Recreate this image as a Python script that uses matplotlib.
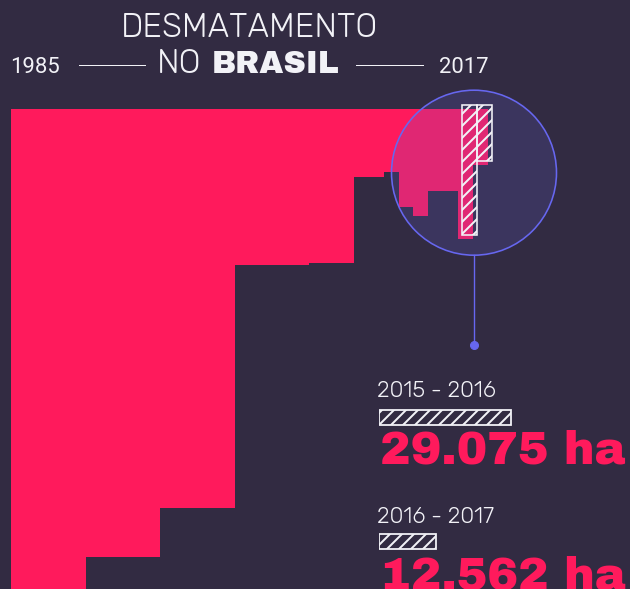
import matplotlib
matplotlib.use("Agg")
import matplotlib.pyplot as plt
from matplotlib.patches import Circle
from matplotlib.transforms import Affine2D, ScaledTranslation

# ---------------- data ----------------
period_start = [1985, 1990, 1995, 2000, 2005, 2008, 2010, 2011, 2012, 2013, 2014, 2015, 2016]
period_end   = [1990, 1995, 2000, 2005, 2008, 2010, 2011, 2012, 2013, 2014, 2015, 2016, 2017]
deforested_ha = [536480, 500317, 445952, 174828, 102938, 30366, 14090, 21977, 23948, 18267, 18433, 29075, 12562]
highlight_labels = ["2015 - 2016", "2016 - 2017"]
highlight_values = [29075, 12562]
highlight_texts = ["29.075 ha", "12.562 ha"]
title_top = "DESMATAMENTO"
year_first, year_last = "1985", "2017"

# ---------------- style ----------------
W, H, DPI = 630, 589, 72
BG = "#322b42"
PINK = "#ff1a5c"
WHITE = "#f2f2f7"
BLUE = "#6767f0"
HEAVY = ["Archivo Black", "DejaVu Sans"]
LIGHT = ["Rubik", "Roboto", "DejaVu Sans"]
plt.rcParams["hatch.linewidth"] = 2.0
plt.rcParams["font.family"] = ["Roboto", "DejaVu Sans"]

fig = plt.figure(figsize=(W / DPI, H / DPI), dpi=DPI, facecolor=BG)
pix = Affine2D().scale(1 / W, -1 / H).translate(0, 1) + fig.transFigure

# main axes: x in years, y in ha/year (downward)
ax = fig.add_axes([0, 0, 1, 1])
ax.set_facecolor(BG)
px_per_year = 477 / 32
px_per_ha = 0.004475
ax.set_xlim(1985 - 11 / px_per_year, 1985 + (W - 11) / px_per_year)
ax.set_ylim((H - 109) / px_per_ha, -109 / px_per_ha)
ax.axis("off")

widths = [e - s for s, e in zip(period_start, period_end)]
per_year = [v / w for v, w in zip(deforested_ha, widths)]
ax.bar(period_start, per_year, width=widths, align="edge", color=PINK,
       linewidth=0, zorder=2)

# highlight circle overlay
cx, cy, r = 474, 172.7, 82.5
ax.add_patch(Circle((cx, cy), r, transform=pix, facecolor="#645fd2", alpha=0.2,
                    edgecolor="none", zorder=3))
ax.add_patch(Circle((cx, cy), r, transform=pix, facecolor="none",
                    edgecolor=BLUE, linewidth=1.6, zorder=5))
ax.plot([cx, cx], [cy + r, 345], transform=pix, color=BLUE, linewidth=1.4, zorder=5)
ax.plot([cx], [345], "o", transform=pix, color=BLUE, markersize=8, zorder=5)

# hatched bars for the last two periods (shifted)
shift = ax.transData + ScaledTranslation(4 / DPI, 4 / DPI, fig.dpi_scale_trans)
hl_idx = [period_start.index(2015), period_start.index(2016)]
for i in hl_idx:
    b = ax.bar(period_start[i], per_year[i], width=widths[i], align="edge",
               facecolor="none", edgecolor=WHITE, hatch="//", linewidth=1.6,
               zorder=4)
    for p in b:
        p.set_transform(shift)

# ---------------- title ----------------
def t(x, y, s, **kw):
    fig.text(x, y, s, transform=pix, **kw)

t(249, 37, title_top, ha="center", va="baseline", fontsize=33,
  fontweight="light", color=WHITE, family=LIGHT)
t(157, 73, "NO", ha="left", va="baseline", fontsize=33, fontweight="light",
  color=WHITE, family=LIGHT)
t(212, 73, "BRASIL", ha="left", va="baseline", fontsize=31, fontweight="bold",
  color=WHITE, family=HEAVY)
t(10, 73, year_first, ha="left", va="baseline", fontsize=22, color=WHITE)
t(439, 73, year_last, ha="left", va="baseline", fontsize=22, color=WHITE)
for x0, x1 in [(79, 145), (356, 423)]:
    ax.plot([x0, x1], [65, 65], transform=pix, color=WHITE, linewidth=1.0, zorder=6)

# ---------------- legend bars ----------------
lax = fig.add_axes([379 / W, 0, (W - 379) / W, 1])
lax.set_xlim(0, (W - 379) / 0.00454)
lax.set_ylim(H, 0)
lax.axis("off")
lax.patch.set_alpha(0)
box_y = [417, 541]
lax.barh(box_y, highlight_values, height=15, left=0, facecolor="none",
         edgecolor=WHITE, hatch="//", linewidth=1.8)

label_y = [397, 523]
num_y = [464, 590]
for lab, txt, ly, ny in zip(highlight_labels, highlight_texts, label_y, num_y):
    t(377, ly, lab, ha="left", va="baseline", fontsize=22.5, color=WHITE,
      family=LIGHT)
    t(380, ny, txt, ha="left", va="baseline", fontsize=46, fontweight="bold",
      color=PINK, family=HEAVY)

fig.savefig("out.png", dpi=DPI, facecolor=BG)
